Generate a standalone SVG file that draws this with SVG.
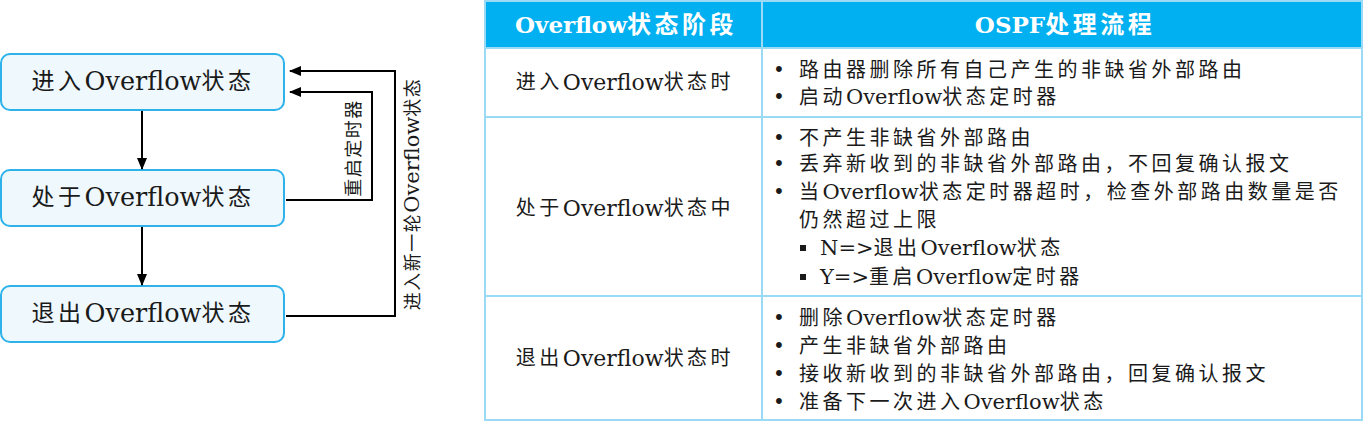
<svg xmlns="http://www.w3.org/2000/svg" width="1365" height="423" viewBox="0 0 1365 423">
<defs>
<style>
text{font-family:"DejaVu Serif","Noto Sans CJK SC",serif;fill:#1a1a1a;dominant-baseline:central}
.box{fill:#EEF8FD;stroke:#2DB2EA;stroke-width:2}
.bt{font-size:23px;letter-spacing:3.5px;text-anchor:middle}
.bt .L{font-size:25.5px;letter-spacing:0}
.ln{fill:none;stroke:#000;stroke-width:2}
.lbl{font-size:18px;letter-spacing:1.5px;text-anchor:middle}
.lbl .L{font-size:21px;letter-spacing:0}
.grid{fill:none;stroke:#9ADAF5;stroke-width:2}
.hd{font-size:24px;font-weight:bold;letter-spacing:3.5px;fill:#fff;text-anchor:middle}
.hd .L{font-size:23px;letter-spacing:0}
.c1{font-size:20px;letter-spacing:3.5px;text-anchor:middle}
.c1 .L{font-size:22px;letter-spacing:0}
.c2{font-size:20px;letter-spacing:3.5px}
.c2 .L{font-size:21px;letter-spacing:0}
.dot{font-size:20px}
</style>
<marker id="ah" markerWidth="12" markerHeight="10" refX="11" refY="5" orient="auto" markerUnits="userSpaceOnUse">
<path d="M0,0 L12,5 L0,10 Z" fill="#000"/>
</marker>
</defs>
<g id="node-enter"><rect class="box" x="1" y="54" width="283" height="56" rx="9"/><text class="bt" x="143" y="81">进入<tspan class="L">Overflow</tspan>状态</text></g>
<g id="node-in"><rect class="box" x="1" y="170" width="283" height="56" rx="9"/><text class="bt" x="143" y="197">处于<tspan class="L">Overflow</tspan>状态</text></g>
<g id="node-exit"><rect class="box" x="1" y="286" width="283" height="56" rx="9"/><text class="bt" x="143" y="313">退出<tspan class="L">Overflow</tspan>状态</text></g>
<g id="connectors">
<line class="ln" x1="142" y1="111" x2="142" y2="169" marker-end="url(#ah)"/>
<line class="ln" x1="142" y1="227" x2="142" y2="285" marker-end="url(#ah)"/>
<polyline class="ln" points="286,200 372,200 372,92 290,92" marker-end="url(#ah)"/>
<polyline class="ln" points="286,316 395,316 395,71 290,71" marker-end="url(#ah)"/>
<text class="lbl" transform="translate(353,148) rotate(-90)">重启定时器</text>
<text class="lbl" transform="translate(412,194) rotate(-90)">进入新一轮<tspan class="L">Overflow</tspan>状态</text>
</g>
<g id="table">
<rect x="485" y="1" width="877" height="47" fill="#00B0F0"/>
<rect class="grid" x="485" y="1" width="877" height="419"/>
<line class="grid" x1="485" y1="48" x2="1362" y2="48"/>
<line class="grid" x1="485" y1="117" x2="1362" y2="117"/>
<line class="grid" x1="485" y1="296" x2="1362" y2="296"/>
<line class="grid" x1="762" y1="1" x2="762" y2="420"/>
<text class="hd" x="626" y="24"><tspan class="L">Overflow</tspan>状态阶段</text>
<text class="hd" x="1065" y="24"><tspan class="L">OSPF</tspan>处理流程</text>
<text class="c1" x="625" y="82">进入<tspan class="L">Overflow</tspan>状态时</text>
<text class="c1" x="625" y="208">处于<tspan class="L">Overflow</tspan>状态中</text>
<text class="c1" x="625" y="358">退出<tspan class="L">Overflow</tspan>状态时</text>
<text class="dot" x="773" y="70">•</text><text class="c2" x="799" y="70">路由器删除所有自己产生的非缺省外部路由</text>
<text class="dot" x="773" y="97">•</text><text class="c2" x="799" y="97">启动<tspan class="L">Overflow</tspan>状态定时器</text>
<text class="dot" x="773" y="138">•</text><text class="c2" x="799" y="138">不产生非缺省外部路由</text>
<text class="dot" x="773" y="164">•</text><text class="c2" x="799" y="164">丢弃新收到的非缺省外部路由，不回复确认报文</text>
<text class="dot" x="773" y="192">•</text><text class="c2" x="799" y="192">当<tspan class="L">Overflow</tspan>状态定时器超时，检查外部路由数量是否</text>
<text class="c2" x="799" y="220">仍然超过上限</text>
<rect x="800" y="245" width="6" height="6" fill="#1a1a1a"/><text class="c2" x="820" y="248"><tspan class="L">N=&gt;</tspan>退出<tspan class="L">Overflow</tspan>状态</text>
<rect x="800" y="274" width="6" height="6" fill="#1a1a1a"/><text class="c2" x="820" y="277"><tspan class="L">Y=&gt;</tspan>重启<tspan class="L">Overflow</tspan>定时器</text>
<text class="dot" x="773" y="318">•</text><text class="c2" x="799" y="318">删除<tspan class="L">Overflow</tspan>状态定时器</text>
<text class="dot" x="773" y="346">•</text><text class="c2" x="799" y="346">产生非缺省外部路由</text>
<text class="dot" x="773" y="374">•</text><text class="c2" x="799" y="374">接收新收到的非缺省外部路由，回复确认报文</text>
<text class="dot" x="773" y="402">•</text><text class="c2" x="799" y="402">准备下一次进入<tspan class="L">Overflow</tspan>状态</text>
</g>
</svg>
